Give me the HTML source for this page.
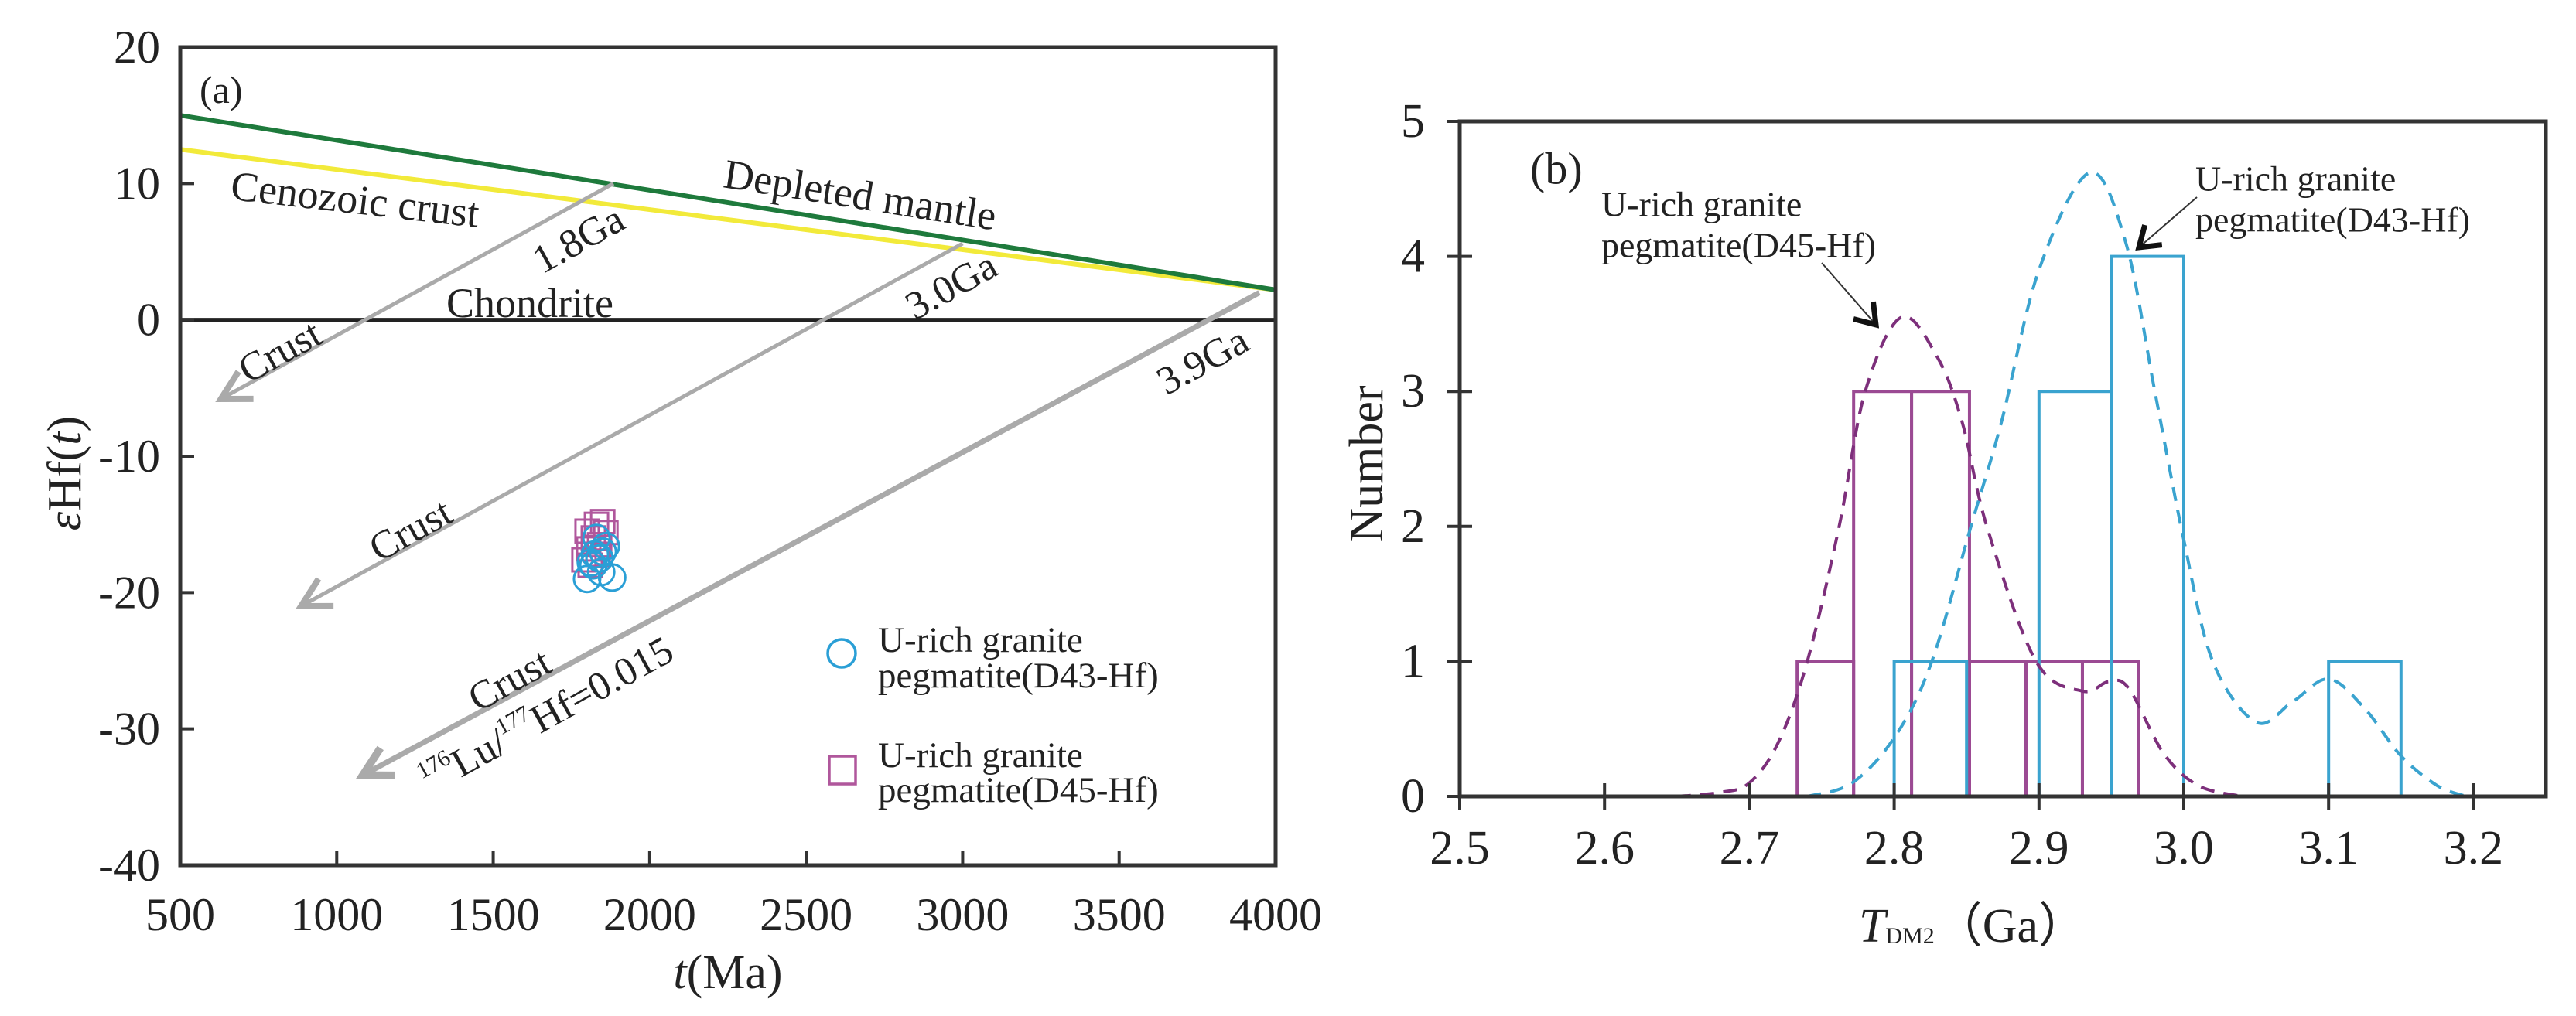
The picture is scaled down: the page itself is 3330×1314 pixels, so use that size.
<!DOCTYPE html>
<html><head><meta charset="utf-8"><style>
html,body{margin:0;padding:0;background:#fff}
svg{display:block}
text{font-family:"Liberation Serif",serif;fill:#222}
</style></head><body>
<svg id="fig" width="3330" height="1314" viewBox="0 0 3330 1314" xmlns="http://www.w3.org/2000/svg">
<g id="pa"></g>
<g id="pb"></g>
</svg>
<script>
// ---------- Panel (a) data ----------
const aXTicks = [500,1000,1500,2000,2500,3000,3500,4000];
const aYTicks = [-40,-30,-20,-10,0,10,20];
const dmLine = [[500,15],[4000,2.2]];
const czLine = [[500,12.5],[4000,2.2]];
const crustStart = [[1884,10.0],[3000,5.6],[3948,2.0]];
const crustEnd = [[630,-5.8],[886,-21.0],[1083,-33.4]];
const crustLabels = ["1.8Ga","3.0Ga","3.9Ga"];
const d43T = [1800,1880,1820,1840,1830,1850,1812,1845,1860,1825];
const d43E = [-19,-18.9,-18,-17.5,-16,-17,-17.8,-18.5,-16.6,-17.2];
const d45T = [1790,1800,1830,1850,1820,1840,1810,1860,1835,1805];
const d45E = [-17.6,-15.5,-15,-14.8,-16,-16.5,-18,-15.6,-17.2,-16.8];

// ---------- Panel (b) data ----------
const bXTicks = [2.5,2.6,2.7,2.8,2.9,3.0,3.1,3.2];
const bYTicks = [0,1,2,3,4,5];
const d45BinStart = [2.733,2.772,2.812,2.852,2.891,2.930];
const d45BinEnd   = [2.772,2.812,2.852,2.891,2.930,2.969];
const d45Counts   = [1,3,3,1,1,1];
const d43BinStart = [2.80,2.90,2.95,3.10];
const d43BinEnd   = [2.85,2.95,3.00,3.15];
const d43Counts   = [1,3,4,1];
const d45CurveX = [2.65,2.68,2.70,2.72,2.74,2.762,2.78,2.805,2.83,2.847,2.864,2.898,2.93,2.948,2.962,2.986,3.01,3.04];
const d45CurveY = [0,0.03,0.1,0.4,1.0,2.0,3.0,3.55,3.25,2.77,2.0,1.0,0.78,0.85,0.8,0.32,0.08,0];
const d43CurveX = [2.74,2.771,2.801,2.826,2.853,2.874,2.90,2.935,2.96,2.98,3.0,3.02,3.05,3.075,3.10,3.125,3.15,3.175,3.195];
const d43CurveY = [0,0.1,0.45,1.0,2.0,2.77,3.9,4.62,4.1,3.0,1.9,1.0,0.55,0.7,0.87,0.65,0.3,0.08,0];

const NS="http://www.w3.org/2000/svg";
function mk(parent,tag,attrs,txt){const e=document.createElementNS(NS,tag);for(const k in attrs)e.setAttribute(k,attrs[k]);if(txt!==undefined)e.textContent=txt;parent.appendChild(e);return e;}
function smooth(pts){let d="M"+pts[0][0]+","+pts[0][1];for(let i=0;i<pts.length-1;i++){const p0=pts[Math.max(0,i-1)],p1=pts[i],p2=pts[i+1],p3=pts[Math.min(pts.length-1,i+2)];const c1x=p1[0]+(p2[0]-p0[0])/6,c1y=p1[1]+(p2[1]-p0[1])/6,c2x=p2[0]-(p3[0]-p1[0])/6,c2y=p2[1]-(p3[1]-p1[1])/6;d+=` C${c1x},${c1y} ${c2x},${c2y} ${p2[0]},${p2[1]}`;}return d;}

// ===== Panel A =====
const pa=document.getElementById('pa');
const AL=233,AR=1649,AT=61,AB=1119;
const ax=t=>AL+(t-500)/3500*(AR-AL);
const ay=v=>AT+(20-v)/60*(AB-AT);
let e;
e=mk(pa,'line',{x1:ax(czLine[0][0]),y1:ay(czLine[0][1]),x2:ax(czLine[1][0]),y2:ay(czLine[1][1]),stroke:'#f2ea3a','stroke-width':6});


e=mk(pa,'line',{x1:ax(dmLine[0][0]),y1:ay(dmLine[0][1]),x2:ax(dmLine[1][0]),y2:ay(dmLine[1][1]),stroke:'#1e7a3c','stroke-width':6});


e=mk(pa,'line',{x1:AL,y1:ay(0),x2:AR,y2:ay(0),stroke:'#222','stroke-width':5});


for(let i=0;i<crustStart.length;i++){
  const x1=ax(crustStart[i][0]),y1=ay(crustStart[i][1]),x2=ax(crustEnd[i][0]),y2=ay(crustEnd[i][1]);
  const g=mk(pa,'g',{});
  
  
  const w=i==2?7:5;
  mk(g,'line',{x1,y1,x2,y2,stroke:'#aaa','stroke-width':w});
  const ang=Math.atan2(y1-y2,x1-x2),L=42,sp=0.5;
  const hx1=x2+L*Math.cos(ang+sp),hy1=y2+L*Math.sin(ang+sp),hx2=x2+L*Math.cos(ang-sp),hy2=y2+L*Math.sin(ang-sp);
  mk(g,'polyline',{points:`${hx1},${hy1} ${x2},${y2} ${hx2},${hy2}`,fill:'none',stroke:'#aaa','stroke-width':w+3,'stroke-linejoin':'miter'});
}
function txt(p,x,y,s,size,rot,name,anchor){const t=mk(p,'text',{x,y,'font-size':size,'text-anchor':anchor||'middle','dominant-baseline':'central',transform:rot?`rotate(${rot} ${x} ${y})`:''},s);return t;}
txt(pa,1112,252,"Depleted  mantle",54,9,'depleted-mantle-label');
txt(pa,459,258,"Cenozoic crust",54,6.5,'cenozoic-crust-label');
txt(pa,685,392,"Chondrite",54,0,'chondrite-label');
txt(pa,748,310,"1.8Ga",52,-29,'label-1-8ga');
txt(pa,1230,370,"3.0Ga",52,-29,'label-3-0ga');
txt(pa,1555,467,"3.9Ga",52,-29,'label-3-9ga');
txt(pa,362,455,"Crust",52,-29,'crust-label-1');
txt(pa,531,686,"Crust",52,-29,'crust-label-2');
txt(pa,659,880,"Crust",52,-29,'crust-label-3');
e=mk(pa,'text',{x:707,y:925,'font-size':52,'text-anchor':'middle','dominant-baseline':'central',transform:'rotate(-29 707 925)'});


e.innerHTML='<tspan font-size="30" dy="-16">176</tspan><tspan dy="16">Lu/</tspan><tspan font-size="30" dy="-16">177</tspan><tspan dy="16">Hf=0.015</tspan>';
txt(pa,258,116,"(a)",50,0,'panel-a-label','start');
for(let i=0;i<d45T.length;i++){e=mk(pa,'rect',{x:ax(d45T[i])-15,y:ay(d45E[i])-15,width:30,height:30,fill:'none',stroke:'#b0579c','stroke-width':3});

}
for(let i=0;i<d43T.length;i++){e=mk(pa,'circle',{cx:ax(d43T[i]),cy:ay(d43E[i]),r:17,fill:'none',stroke:'#2a9fd6','stroke-width':3});

}
e=mk(pa,'circle',{cx:1088,cy:845,r:18,fill:'none',stroke:'#2a9fd6','stroke-width':3.5});


txt(pa,1135,828,"U-rich granite",47,0,'legend-d43-line1','start');
txt(pa,1135,874,"pegmatite(D43-Hf)",47,0,'legend-d43-line2','start');
e=mk(pa,'rect',{x:1072,y:978,width:34,height:36,fill:'none',stroke:'#b0579c','stroke-width':3.5});


txt(pa,1135,977,"U-rich granite",47,0,'legend-d45-line1','start');
txt(pa,1135,1022,"pegmatite(D45-Hf)",47,0,'legend-d45-line2','start');
e=mk(pa,'rect',{x:AL,y:AT,width:AR-AL,height:AB-AT,fill:'none',stroke:'#333','stroke-width':5});


aXTicks.forEach(v=>{mk(pa,'line',{x1:ax(v),y1:AB,x2:ax(v),y2:AB-18,stroke:'#333','stroke-width':4});
 txt(pa,ax(v),1183,String(v),60,0,'x-tick-label-'+v);});
aYTicks.forEach(v=>{mk(pa,'line',{x1:AL,y1:ay(v),x2:AL+18,y2:ay(v),stroke:'#333','stroke-width':4});
 txt(pa,207,ay(v),String(v),60,0,'y-tick-label-'+v,'end');});
e=mk(pa,'text',{x:941,y:1258,'font-size':62,'text-anchor':'middle','dominant-baseline':'central'});


e.innerHTML='<tspan font-style="italic">t</tspan>(Ma)';
e=mk(pa,'text',{x:84,y:612,'font-size':62,'text-anchor':'middle','dominant-baseline':'central',transform:'rotate(-90 84 612)'});


e.innerHTML='<tspan font-style="italic">ε</tspan>Hf(<tspan font-style="italic">t</tspan>)';

// ===== Panel B =====
const pb=document.getElementById('pb');
const BL=1887,BR=3291,BT=157,BB=1030;
const bx=v=>BL+(v-2.5)/0.75*(BR-BL);
const by=v=>BB-v/5*(BB-BT);
for(let i=0;i<d45Counts.length;i++){e=mk(pb,'rect',{x:bx(d45BinStart[i]),y:by(d45Counts[i]),width:bx(d45BinEnd[i])-bx(d45BinStart[i]),height:by(0)-by(d45Counts[i]),fill:'none',stroke:'#9b4a93','stroke-width':4});

}
for(let i=0;i<d43Counts.length;i++){e=mk(pb,'rect',{x:bx(d43BinStart[i]),y:by(d43Counts[i]),width:bx(d43BinEnd[i])-bx(d43BinStart[i]),height:by(0)-by(d43Counts[i]),fill:'none',stroke:'#3aa3cf','stroke-width':4});

}
e=mk(pb,'path',{d:smooth(d45CurveX.map((x,i)=>[bx(x),by(d45CurveY[i])])),fill:'none',stroke:'#7d2f7b','stroke-width':4,'stroke-dasharray':'18 12'});


e=mk(pb,'path',{d:smooth(d43CurveX.map((x,i)=>[bx(x),by(d43CurveY[i])])),fill:'none',stroke:'#3aa3cf','stroke-width':4,'stroke-dasharray':'18 12'});


e=mk(pb,'rect',{x:BL,y:BT,width:BR-BL,height:BB-BT,fill:'none',stroke:'#333','stroke-width':5});


bXTicks.forEach(v=>{mk(pb,'line',{x1:bx(v),y1:BB-17,x2:bx(v),y2:BB+17,stroke:'#333','stroke-width':4});
 txt(pb,bx(v),1097,v.toFixed(1),62,0,'x-tick-label-b-'+v);});
bYTicks.forEach(v=>{mk(pb,'line',{x1:BL-16,y1:by(v),x2:BL+16,y2:by(v),stroke:'#333','stroke-width':4});
 txt(pb,1842,by(v),String(v),62,0,'y-tick-label-b-'+v,'end');});
txt(pb,1767,600,"Number",62,-90,'y-axis-title-b');
e=mk(pb,'text',{x:2550,y:1198,'font-size':62,'text-anchor':'middle','dominant-baseline':'central'});


e.innerHTML='<tspan font-style="italic">T</tspan><tspan font-size="30" dy="12">DM2</tspan><tspan dy="-12">（Ga）</tspan>';
txt(pb,1978,218,"(b)",58,0,'panel-b-label','start');
txt(pb,2070,264,"U-rich granite",46,0,'annot-d45-line1','start');
txt(pb,2070,317,"pegmatite(D45-Hf)",46,0,'annot-d45-line2','start');
txt(pb,2838,231,"U-rich granite",46,0,'annot-d43-line1','start');
txt(pb,2838,284,"pegmatite(D43-Hf)",46,0,'annot-d43-line2','start');
function annArrow(x1,y1,x2,y2,name){const g=mk(pb,'g',{});
 mk(g,'line',{x1,y1,x2,y2,stroke:'#333','stroke-width':2});
 const ang=Math.atan2(y1-y2,x1-x2),L=30,sp=0.6;
 mk(g,'polyline',{points:`${x2+L*Math.cos(ang+sp)},${y2+L*Math.sin(ang+sp)} ${x2},${y2} ${x2+L*Math.cos(ang-sp)},${y2+L*Math.sin(ang-sp)}`,fill:'none',stroke:'#111','stroke-width':7});}
annArrow(2355,340,2425,420,'annot-d45-arrow');
annArrow(2840,255,2765,320,'annot-d43-arrow');
</script>
</body></html>
